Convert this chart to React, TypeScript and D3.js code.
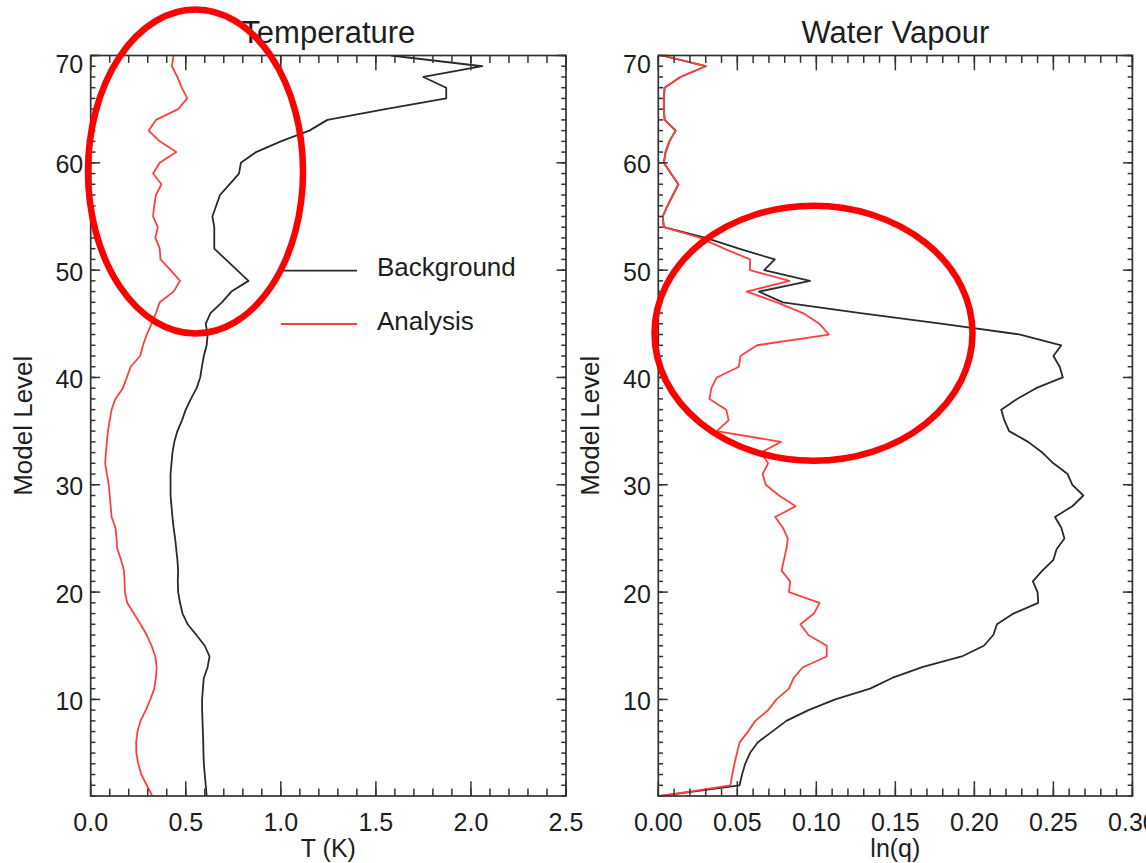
import React from 'react';
import * as d3 from 'd3';

// ---- data (model level 1 .. 70) ----
const LEVELS: number[] = d3.range(1, 71);

const T_BACKGROUND = [
  0.61, 0.605, 0.6, 0.595, 0.593, 0.592, 0.59, 0.588, 0.586, 0.586,
  0.59, 0.595, 0.615, 0.625, 0.6, 0.556, 0.51, 0.483, 0.47, 0.46,
  0.458, 0.46, 0.456, 0.45, 0.444, 0.436, 0.43, 0.425, 0.42, 0.42,
  0.42, 0.425, 0.43, 0.44, 0.456, 0.48, 0.5, 0.527, 0.557, 0.576,
  0.585, 0.595, 0.61, 0.615, 0.605, 0.63, 0.69, 0.74, 0.83, 0.77,
  0.71, 0.65, 0.65, 0.65, 0.64, 0.66, 0.68, 0.73, 0.78, 0.79,
  0.87, 1.0, 1.15, 1.245, 1.55, 1.87, 1.87, 1.75, 2.06, 1.58,
];

const T_ANALYSIS = [
  0.324, 0.295, 0.266, 0.25, 0.24, 0.239, 0.246, 0.262, 0.29, 0.314,
  0.334, 0.343, 0.347, 0.34, 0.32, 0.295, 0.262, 0.227, 0.192, 0.18,
  0.178, 0.175, 0.16, 0.14, 0.136, 0.13, 0.11, 0.105, 0.1, 0.095,
  0.085, 0.076, 0.08, 0.085, 0.091, 0.1, 0.11, 0.13, 0.169, 0.19,
  0.21, 0.26, 0.275, 0.295, 0.32, 0.343, 0.363, 0.436, 0.47, 0.42,
  0.367, 0.363, 0.34, 0.353, 0.328, 0.334, 0.343, 0.372, 0.328, 0.363,
  0.45, 0.363, 0.305, 0.343, 0.46, 0.508, 0.479, 0.456, 0.427, 0.436,
];

const Q_BACKGROUND = [
  0.0012, 0.0514, 0.053, 0.055, 0.058, 0.063, 0.072, 0.081, 0.095, 0.112,
  0.134, 0.148, 0.167, 0.192, 0.206, 0.212, 0.2143, 0.2247, 0.2404, 0.24,
  0.237, 0.243, 0.25, 0.252, 0.257, 0.255, 0.251, 0.262, 0.269, 0.262,
  0.259, 0.25, 0.243, 0.234, 0.222, 0.219, 0.217, 0.227, 0.239, 0.256,
  0.254, 0.25, 0.255, 0.229, 0.18, 0.128, 0.0788, 0.0637, 0.096, 0.067,
  0.0737, 0.051, 0.03, 0.0035, 0.0028, 0.0058, 0.0093, 0.0127, 0.008, 0.0035,
  0.0046, 0.007, 0.011, 0.004, 0.0035, 0.0035, 0.004, 0.014, 0.03, 0.0023,
];

const Q_ANALYSIS = [
  0.0019, 0.0456, 0.0468, 0.0482, 0.0498, 0.0514, 0.0568, 0.0614, 0.0695, 0.0748,
  0.0827, 0.0857, 0.0915, 0.1066, 0.1066, 0.095, 0.0899, 0.0985, 0.102, 0.0827,
  0.0834, 0.078, 0.0795, 0.081, 0.082, 0.0788, 0.074, 0.0869, 0.0764, 0.068,
  0.066, 0.0695, 0.065, 0.0776, 0.037, 0.0445, 0.043, 0.0324, 0.0336, 0.037,
  0.051, 0.052, 0.0625, 0.108, 0.102, 0.0915, 0.075, 0.056, 0.083, 0.058,
  0.058, 0.0417, 0.0266, 0.0035, 0.0028, 0.0058, 0.0093, 0.0127, 0.008, 0.0035,
  0.0046, 0.007, 0.011, 0.004, 0.0035, 0.0035, 0.004, 0.014, 0.03, 0.0023,
];

const LEVEL_TICKS = [10, 20, 30, 40, 50, 60, 70];
const T_TICKS = [0, 0.5, 1.0, 1.5, 2.0, 2.5];
const Q_TICKS = [0, 0.05, 0.1, 0.15, 0.2, 0.25, 0.3];

const SERIES_NAMES = ['Background', 'Analysis'];
const SERIES_COLORS = ['#2a2a2a', '#ff4040'];

// ---- layout ----
const W = 1146;
const H = 863;
const TOP = 55.5;
const BOTTOM = 796;
const FONT = "'Liberation Sans', Arial, Helvetica, sans-serif";
const INK = '#1e1e1e';

const panels = [
  {
    title: 'Temperature',
    xlabel: 'T (K)',
    left: 90.7,
    right: 566,
    domain: [0, 2.5],
    ticks: T_TICKS,
    minorStep: 0.1,
    fmt: d3.format('.1f'),
    bg: T_BACKGROUND,
    an: T_ANALYSIS,
  },
  {
    title: 'Water Vapour',
    xlabel: 'ln(q)',
    left: 658.3,
    right: 1132.4,
    domain: [0, 0.3],
    ticks: Q_TICKS,
    minorStep: 0.01,
    fmt: d3.format('.2f'),
    bg: Q_BACKGROUND,
    an: Q_ANALYSIS,
  },
];

const yScale = d3.scaleLinear().domain([1, 70]).range([BOTTOM, TOP]);

function Panel({ p }: { p: (typeof panels)[number] }) {
  const x = d3.scaleLinear().domain(p.domain).range([p.left, p.right]);
  const line = d3
    .line<number>()
    .x((d) => x(d))
    .y((_, i) => yScale(LEVELS[i]));
  const plotW = p.right - p.left;
  const plotH = BOTTOM - TOP;
  const yMajor = 0.02 * plotW;
  const xMajor = 0.02 * plotH;
  const xMinorTicks = d3.range(p.domain[0], p.domain[1] + p.minorStep / 2, p.minorStep);
  const yMinorTicks = d3.range(1, 71);
  const cx = (p.left + p.right) / 2;
  const cy = (TOP + BOTTOM) / 2;
  const tickStroke = { stroke: '#333', strokeWidth: 1.5 };
  const clipId = `clip-${p.title.replace(/\s/g, '')}`;
  return (
    <g>
      <defs>
        <clipPath id={clipId}>
          <rect x={p.left} y={TOP} width={plotW} height={plotH} />
        </clipPath>
      </defs>
      {/* data */}
      <g clipPath={`url(#${clipId})`}>
        <path d={line(p.bg) || ''} fill="none" stroke={SERIES_COLORS[0]} strokeWidth={1.8} strokeLinejoin="round" />
        <path d={line(p.an) || ''} fill="none" stroke={SERIES_COLORS[1]} strokeWidth={1.8} strokeLinejoin="round" />
      </g>
      {/* box */}
      <rect x={p.left} y={TOP} width={plotW} height={plotH} fill="none" stroke="#333" strokeWidth={1.7} />
      {/* x minor/major ticks, bottom + top */}
      {xMinorTicks.map((t, i) => (
        <g key={`xm${i}`}>
          <line x1={x(t)} x2={x(t)} y1={BOTTOM} y2={BOTTOM - xMajor / 2} {...tickStroke} />
          <line x1={x(t)} x2={x(t)} y1={TOP} y2={TOP + xMajor / 2} {...tickStroke} />
        </g>
      ))}
      {p.ticks.map((t, i) => (
        <g key={`xM${i}`}>
          <line x1={x(t)} x2={x(t)} y1={BOTTOM} y2={BOTTOM - xMajor} {...tickStroke} />
          <line x1={x(t)} x2={x(t)} y1={TOP} y2={TOP + xMajor} {...tickStroke} />
          <text x={x(t)} y={831} textAnchor="middle" fontSize={25} fontFamily={FONT} fill={INK}>
            {p.fmt(t)}
          </text>
        </g>
      ))}
      {/* y ticks, left + right */}
      {yMinorTicks.map((l) => (
        <g key={`ym${l}`}>
          <line x1={p.left} x2={p.left + yMajor / 2} y1={yScale(l)} y2={yScale(l)} {...tickStroke} />
          <line x1={p.right} x2={p.right - yMajor / 2} y1={yScale(l)} y2={yScale(l)} {...tickStroke} />
        </g>
      ))}
      {LEVEL_TICKS.map((l) => (
        <g key={`yM${l}`}>
          <line x1={p.left} x2={p.left + yMajor} y1={yScale(l)} y2={yScale(l)} {...tickStroke} />
          <line x1={p.right} x2={p.right - yMajor} y1={yScale(l)} y2={yScale(l)} {...tickStroke} />
          <text
            x={p.left - 7.5}
            y={yScale(l) + (l === 70 ? 17 : 10.5)}
            textAnchor="end"
            fontSize={25}
            fontFamily={FONT}
            fill={INK}
          >
            {l}
          </text>
        </g>
      ))}
      {/* titles */}
      <text x={cx} y={43} textAnchor="middle" fontSize={31} fontFamily={FONT} fill={INK}>
        {p.title}
      </text>
      <text x={cx} y={857} textAnchor="middle" fontSize={25} fontFamily={FONT} fill={INK}>
        {p.xlabel}
      </text>
      <text
        transform={`translate(${p.left - 59},${cy}) rotate(-90)`}
        textAnchor="middle"
        fontSize={26}
        fontFamily={FONT}
        fill={INK}
      >
        Model Level
      </text>
    </g>
  );
}

export default function App() {
  const legendY = [270.7, 324];
  return (
    <svg
      width={W}
      height={H}
      viewBox={`0 0 ${W} ${H}`}
      style={{ position: 'absolute', left: 0, top: 0, background: '#fff', overflow: 'hidden' }}
    >
      <rect x={0} y={0} width={W} height={H} fill="#fff" />
      {panels.map((p) => (
        <Panel key={p.title} p={p} />
      ))}
      {/* legend */}
      {SERIES_NAMES.map((name, i) => (
        <g key={name}>
          <line x1={281} x2={357} y1={legendY[i]} y2={legendY[i]} stroke={SERIES_COLORS[i]} strokeWidth={1.8} />
          <text x={377} y={legendY[i] + 5.5} fontSize={26} fontFamily={FONT} fill={INK}>
            {name}
          </text>
        </g>
      ))}
      {/* red annotation ellipses */}
      <ellipse cx={195.5} cy={171.5} rx={107.5} ry={162} fill="none" stroke="#ff0000" strokeWidth={6.5} />
      <ellipse cx={813.5} cy={333.3} rx={159} ry={127.5} fill="none" stroke="#ff0000" strokeWidth={6.5} />
    </svg>
  );
}
